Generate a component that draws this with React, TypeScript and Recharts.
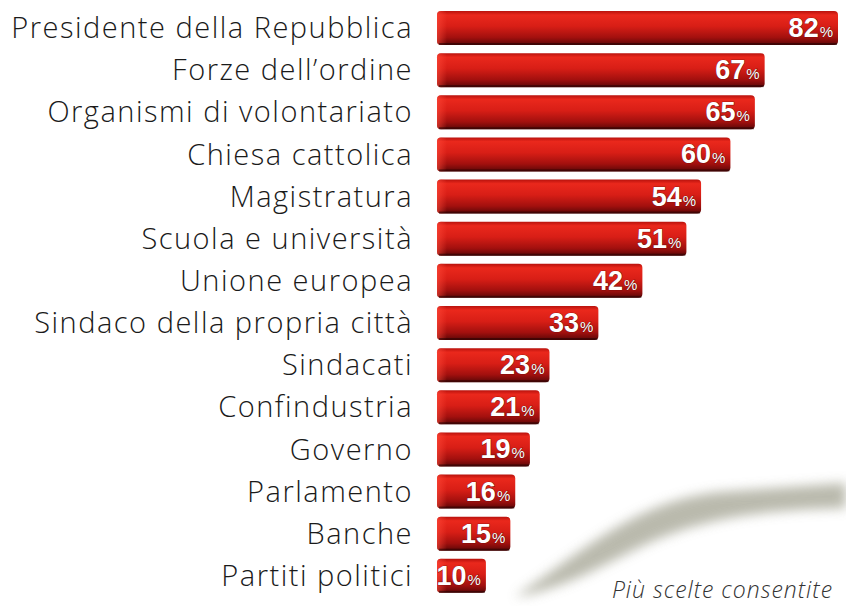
import React from "react";
import { BarChart, Bar, XAxis, YAxis, LabelList, Customized } from "recharts";

const categories = [
  "Presidente della Repubblica",
  "Forze dell\u2019ordine",
  "Organismi di volontariato",
  "Chiesa cattolica",
  "Magistratura",
  "Scuola e università",
  "Unione europea",
  "Sindaco della propria città",
  "Sindacati",
  "Confindustria",
  "Governo",
  "Parlamento",
  "Banche",
  "Partiti politici",
];
const values = [82, 67, 65, 60, 54, 51, 42, 33, 23, 21, 19, 16, 15, 10];
const note = "Più scelte consentite";

const data = categories.map((name, i) => ({ name, value: values[i] }));

const LABEL_FONT = "'Open Sans', 'DejaVu Sans', sans-serif";

const CategoryTick = (props: any) => {
  const { x, y, payload } = props;
  return (
    <text
      x={x}
      y={y}
      dy={10}
      textAnchor="end"
      fill="#1a1a1a"
      fontFamily={LABEL_FONT}
      fontSize={29}
      fontWeight={300}
      letterSpacing={1.5}
    >
      {payload.value}
    </text>
  );
};

const ValueLabel = (props: any) => {
  const { x, y, width, height, value } = props;
  const ex = x + width - 5;
  const cy = y + height / 2;
  return (
    <text
      x={ex}
      y={cy + 9}
      textAnchor="end"
      fill="#fff"
      fontFamily="'Liberation Sans', Arial, sans-serif"
      fontWeight={700}
      fontSize={27}
      stroke="#5a0a08"
      strokeWidth={0.7}
      paintOrder="stroke"
    >
      {value}
      <tspan fontSize={15} fontWeight={400} dx={1}>%</tspan>
    </text>
  );
};

const BarShape = (props: any) => {
  const { x, y, width, height } = props;
  const r = 4;
  return (
    <g>
      <rect x={x} y={y} width={width} height={height} rx={r} ry={r} fill="url(#barGrad)" />
      <rect x={x} y={y} width={Math.min(10, width)} height={height} rx={r} ry={r} fill="url(#capGrad)" />
      <rect x={x + 2} y={y + height - 2} width={width - 3} height={2} fill="#2a0303" opacity={0.6} />
    </g>
  );
};

const Decorations = () => (
  <g>
    <path
      d="M 515 597 C 590 545, 640 500, 720 492 L 846 483 L 846 508 C 760 510, 700 518, 640 547 C 600 567, 560 590, 515 597 Z"
      fill="#a3a392"
      filter="url(#blurShadow)"
      opacity={0.75}
    />
    <text
      x={833}
      y={598}
      textAnchor="end"
      fill="#333"
      fontFamily={LABEL_FONT}
      fontStyle="italic"
      fontWeight={300}
      fontSize={23}
      letterSpacing={1}
    >
      {note}
    </text>
  </g>
);

export default function App() {
  return (
    <div style={{ position: "absolute", left: 0, top: 0, width: 846, height: 606, background: "#fff" }}>
      <BarChart
        width={846}
        height={606}
        data={data}
        layout="vertical"
        margin={{ top: 7, right: 8, bottom: 9, left: 0 }}
        barSize={34}
      >
        <defs>
          <linearGradient id="barGrad" x1="0" y1="0" x2="0" y2="1">
            <stop offset="0" stopColor="#b8120d" />
            <stop offset="0.12" stopColor="#ea281c" />
            <stop offset="0.45" stopColor="#d81e16" />
            <stop offset="0.78" stopColor="#a2100e" />
            <stop offset="1" stopColor="#5a0707" />
          </linearGradient>
          <linearGradient id="capGrad" x1="0" y1="0" x2="1" y2="0">
            <stop offset="0" stopColor="#ff4a3a" stopOpacity={0.6} />
            <stop offset="1" stopColor="#ff4a3a" stopOpacity={0} />
          </linearGradient>
          <filter id="blurShadow" x="-20%" y="-50%" width="140%" height="200%">
            <feGaussianBlur stdDeviation="6" />
          </filter>
        </defs>
        <XAxis type="number" domain={[0, 82]} hide />
        <YAxis
          type="category"
          dataKey="name"
          width={437}
          axisLine={false}
          tickLine={false}
          tickSize={0}
          tickMargin={24}
          interval={0}
          tick={<CategoryTick />}
        />
        <Bar dataKey="value" isAnimationActive={false} shape={<BarShape />}>
          <LabelList dataKey="value" content={<ValueLabel />} />
        </Bar>
        <Customized component={<Decorations />} />
      </BarChart>
    </div>
  );
}
